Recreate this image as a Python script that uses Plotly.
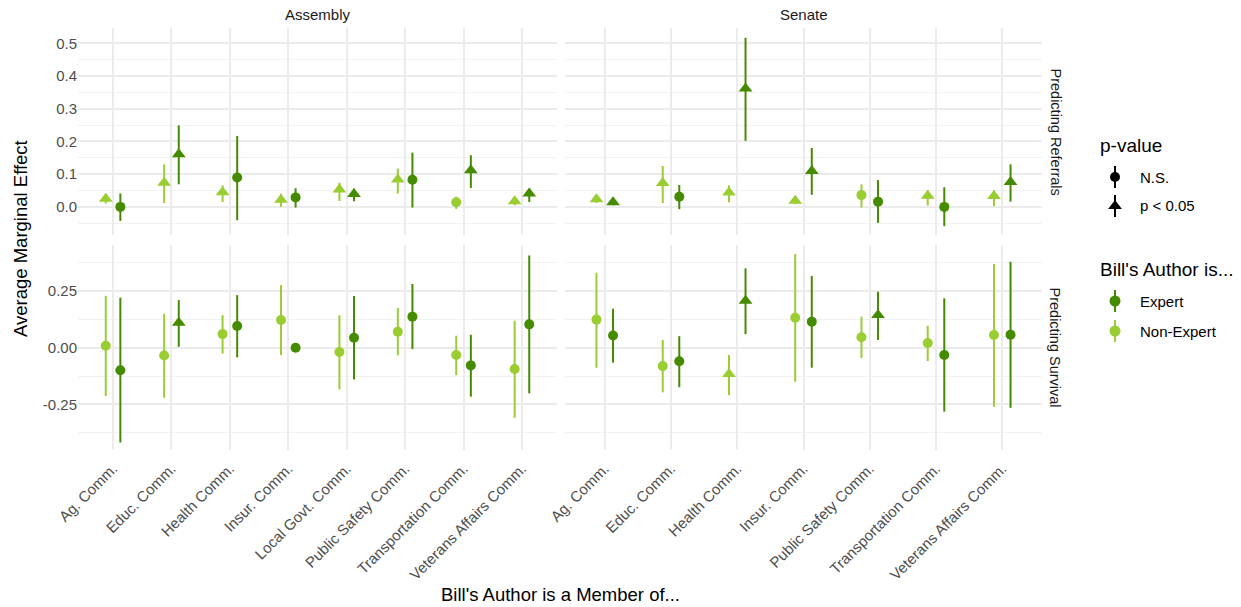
import plotly.graph_objects as go

# ---------------- data ----------------
assembly_comms = ["Ag. Comm.", "Educ. Comm.", "Health Comm.", "Insur. Comm.",
                  "Local Govt. Comm.", "Public Safety Comm.", "Transportation Comm.",
                  "Veterans Affairs Comm."]
senate_comms = ["Ag. Comm.", "Educ. Comm.", "Health Comm.", "Insur. Comm.",
                "Public Safety Comm.", "Transportation Comm.", "Veterans Affairs Comm."]

# Predicting Referrals - Assembly
ref_asm_exp_est = [0.000, 0.161, 0.090, 0.029, 0.039, 0.083, 0.112, 0.041]
ref_asm_exp_lo = [-0.043, 0.069, -0.041, -0.002, 0.017, -0.002, 0.058, 0.015]
ref_asm_exp_hi = [0.041, 0.249, 0.217, 0.057, 0.056, 0.166, 0.158, 0.056]
ref_asm_exp_sig = [False, True, False, False, True, False, True, True]
ref_asm_non_est = [0.025, 0.074, 0.045, 0.022, 0.053, 0.084, 0.014, 0.017]
ref_asm_non_lo = [0.010, 0.012, 0.015, 0.000, 0.018, 0.041, -0.006, 0.005]
ref_asm_non_hi = [0.038, 0.130, 0.066, 0.040, 0.074, 0.117, 0.031, 0.030]
ref_asm_non_sig = [True, True, True, True, True, True, False, True]

# Predicting Referrals - Senate
ref_sen_exp_est = [0.014, 0.031, 0.362, 0.110, 0.016, 0.000, 0.076]
ref_sen_exp_lo = [0.005, -0.007, 0.202, 0.037, -0.049, -0.059, 0.016]
ref_sen_exp_hi = [0.023, 0.067, 0.517, 0.180, 0.082, 0.060, 0.130]
ref_sen_exp_sig = [True, False, True, True, False, False, True]
ref_sen_non_est = [0.023, 0.073, 0.044, 0.019, 0.036, 0.034, 0.033]
ref_sen_non_lo = [0.012, 0.012, 0.014, 0.008, -0.002, 0.004, 0.002]
ref_sen_non_hi = [0.034, 0.125, 0.066, 0.030, 0.069, 0.051, 0.051]
ref_sen_non_sig = [True, True, True, True, False, True, True]

# Predicting Survival - Assembly
sur_asm_exp_est = [-0.099, 0.110, 0.096, 0.000, 0.044, 0.137, -0.078, 0.103]
sur_asm_exp_lo = [-0.418, 0.004, -0.043, -0.004, -0.140, -0.006, -0.216, -0.201]
sur_asm_exp_hi = [0.221, 0.210, 0.232, 0.004, 0.228, 0.281, 0.057, 0.407]
sur_asm_exp_sig = [False, True, False, False, False, False, False, False]
sur_asm_non_est = [0.009, -0.034, 0.060, 0.122, -0.019, 0.071, -0.032, -0.094]
sur_asm_non_lo = [-0.213, -0.221, -0.026, -0.032, -0.184, -0.034, -0.121, -0.309]
sur_asm_non_hi = [0.229, 0.150, 0.144, 0.276, 0.143, 0.175, 0.053, 0.119]
sur_asm_non_sig = [False, False, False, False, False, False, False, False]

# Predicting Survival - Senate
sur_sen_exp_est = [0.054, -0.060, 0.207, 0.115, 0.144, -0.032, 0.057]
sur_sen_exp_lo = [-0.066, -0.174, 0.060, -0.088, 0.034, -0.282, -0.265]
sur_sen_exp_hi = [0.172, 0.051, 0.350, 0.316, 0.247, 0.218, 0.379]
sur_sen_exp_sig = [False, False, True, False, True, False, False]
sur_sen_non_est = [0.124, -0.081, -0.116, 0.132, 0.046, 0.021, 0.056]
sur_sen_non_lo = [-0.088, -0.197, -0.209, -0.150, -0.046, -0.059, -0.260]
sur_sen_non_hi = [0.331, 0.034, -0.032, 0.413, 0.137, 0.097, 0.369]
sur_sen_non_sig = [False, False, True, False, False, False, False]

ref_ticks = [0.0, 0.1, 0.2, 0.3, 0.4, 0.5]
ref_ticktext = ["0.0", "0.1", "0.2", "0.3", "0.4", "0.5"]
sur_ticks = [-0.25, 0.0, 0.25]
sur_ticktext = ["-0.25", "0.00", "0.25"]

# ---------------- style ----------------
W, H = 1241, 607
FONT = "Liberation Sans, Arial, sans-serif"
EXPERT = "#458B00"
NONEXP = "#9ACD32"
GRID = "#ebebeb"
MINOR = "#f2f2f2"
TICKC = "#4d4d4d"
DODGE = 0.125
TICK_SIZE = 15

def px_x(p):
    return p / W

def px_y(p):
    return 1 - p / H

x_left = [px_x(78), px_x(557)]
x_right = [px_x(565), px_x(1042)]
y_top = [px_y(235), px_y(28)]
y_bot = [px_y(450), px_y(245)]

fig = go.Figure()

panels = [
    ("x", "y", assembly_comms,
     (ref_asm_exp_est, ref_asm_exp_lo, ref_asm_exp_hi, ref_asm_exp_sig),
     (ref_asm_non_est, ref_asm_non_lo, ref_asm_non_hi, ref_asm_non_sig)),
    ("x2", "y2", senate_comms,
     (ref_sen_exp_est, ref_sen_exp_lo, ref_sen_exp_hi, ref_sen_exp_sig),
     (ref_sen_non_est, ref_sen_non_lo, ref_sen_non_hi, ref_sen_non_sig)),
    ("x3", "y3", assembly_comms,
     (sur_asm_exp_est, sur_asm_exp_lo, sur_asm_exp_hi, sur_asm_exp_sig),
     (sur_asm_non_est, sur_asm_non_lo, sur_asm_non_hi, sur_asm_non_sig)),
    ("x4", "y4", senate_comms,
     (sur_sen_exp_est, sur_sen_exp_lo, sur_sen_exp_hi, sur_sen_exp_sig),
     (sur_sen_non_est, sur_sen_non_lo, sur_sen_non_hi, sur_sen_non_sig)),
]

for xa, ya, cats, exp, non in panels:
    fig.add_shape(type="line", xref=f"{xa} domain", yref=ya, x0=0, x1=1, y0=0, y1=0,
                  line=dict(color="#bdbdbd", width=1.5, dash="dash"), layer="below")
    for (est, lo, hi, sig), color, off in ((non, NONEXP, -DODGE), (exp, EXPERT, DODGE)):
        xs = [i + 1 + off for i in range(len(cats))]
        fig.add_trace(go.Scatter(
            x=xs, y=est, xaxis=xa, yaxis=ya, mode="markers",
            marker=dict(color=color, opacity=1,
                        symbol=["triangle-up" if s else "circle" for s in sig],
                        size=[12 if s else 10 for s in sig],
                        line=dict(width=0)),
            error_y=dict(type="data", symmetric=False,
                         array=[h - e for h, e in zip(hi, est)],
                         arrayminus=[e - l for e, l in zip(est, lo)],
                         color=color, thickness=2, width=0),
            showlegend=False, hoverinfo="skip"))

def xaxis_cfg(domain, anchor, cats, show_labels):
    return dict(domain=domain, anchor=anchor, range=[0.4, len(cats) + 0.6],
                tickmode="array", tickvals=list(range(1, len(cats) + 1)),
                ticktext=cats, showticklabels=show_labels, tickangle=-45,
                tickfont=dict(family=FONT, size=TICK_SIZE, color=TICKC),
                ticklabelstandoff=6,
                showgrid=True, gridcolor=GRID, gridwidth=1.6, zeroline=False,
                showline=False, ticks="", automargin=False)

def yaxis_cfg(domain, anchor, rng, tv, tt, minor_vals, show_labels):
    return dict(domain=domain, anchor=anchor, range=rng, tickmode="array",
                tickvals=tv, ticktext=tt, showticklabels=show_labels,
                tickfont=dict(family=FONT, size=TICK_SIZE, color=TICKC),
                showgrid=True, gridcolor=GRID, gridwidth=1.6, zeroline=False,
                minor=dict(tickmode="array", tickvals=minor_vals, showgrid=True,
                           gridcolor=MINOR, gridwidth=1, ticks=""),
                showline=False, ticks="", automargin=False)

ref_range = [-0.086, 0.547]
sur_range = [-0.451, 0.453]
ref_minor = [-0.05, 0.05, 0.15, 0.25, 0.35, 0.45]
sur_minor = [-0.375, -0.125, 0.125, 0.375]

# legend key area (pixel space)
LX0, LX1, LY0, LY1 = 1090, 1135, 150, 350

fig.update_layout(
    xaxis=xaxis_cfg(x_left, "y", assembly_comms, False),
    xaxis2=xaxis_cfg(x_right, "y2", senate_comms, False),
    xaxis3=xaxis_cfg(x_left, "y3", assembly_comms, True),
    xaxis4=xaxis_cfg(x_right, "y4", senate_comms, True),
    yaxis=yaxis_cfg(y_top, "x", ref_range, ref_ticks, ref_ticktext, ref_minor, True),
    yaxis2=yaxis_cfg(y_top, "x2", ref_range, ref_ticks, ref_ticktext, ref_minor, False),
    yaxis3=yaxis_cfg(y_bot, "x3", sur_range, sur_ticks, sur_ticktext, sur_minor, True),
    yaxis4=yaxis_cfg(y_bot, "x4", sur_range, sur_ticks, sur_ticktext, sur_minor, False),
    xaxis5=dict(domain=[px_x(LX0), px_x(LX1)], anchor="y5", range=[LX0, LX1],
                visible=False, fixedrange=True),
    yaxis5=dict(domain=[px_y(LY1), px_y(LY0)], anchor="x5", range=[LY1, LY0],
                visible=False, fixedrange=True),
)

# ---------------- annotations ----------------
ann = []
def text(x, y, s, size=13, color="#1a1a1a", angle=0, xanchor="center", yanchor="middle"):
    ann.append(dict(x=px_x(x), y=px_y(y), xref="paper", yref="paper", text=s,
                    showarrow=False, textangle=angle, xanchor=xanchor, yanchor=yanchor,
                    font=dict(family=FONT, size=size, color=color)))

text((78 + 557) / 2, 14, "Assembly", size=15)
text((565 + 1042) / 2, 14, "Senate", size=15)
text(1055, (28 + 235) / 2, "Predicting Referrals", size=14.5, angle=90)
text(1055, (245 + 450) / 2, "Predicting Survival", size=14.5, angle=90)
text(21, (28 + 450) / 2, "Average Marginal Effect", size=18.5, color="#000000", angle=-90)
text((78 + 1042) / 2, 594, "Bill's Author is a Member of...", size=18.5, color="#000000")

text(1098, 145, "p-value", size=19, color="#000000", xanchor="left")
text(1138, 177, "N.S.", size=15, color="#000000", xanchor="left")
text(1138, 206, "p < 0.05", size=15, color="#000000", xanchor="left")
text(1098, 269, "Bill's Author is...", size=19, color="#000000", xanchor="left")
text(1138, 301, "Expert", size=15, color="#000000", xanchor="left")
text(1138, 331, "Non-Expert", size=15, color="#000000", xanchor="left")
fig.update_layout(annotations=ann)

legend_keys = [
    (177, "#000000", "circle", 10),
    (206, "#000000", "triangle-up", 12),
    (301, EXPERT, "circle", 11),
    (331, NONEXP, "circle", 11),
]
for yk, col, sym, sz in legend_keys:
    fig.add_trace(go.Scatter(x=[1115, 1115], y=[yk - 11, yk + 11], xaxis="x5", yaxis="y5",
                             mode="lines", line=dict(color=col, width=2),
                             showlegend=False, hoverinfo="skip", cliponaxis=False))
    fig.add_trace(go.Scatter(x=[1115], y=[yk], xaxis="x5", yaxis="y5", mode="markers",
                             marker=dict(color=col, symbol=sym, size=sz, opacity=1),
                             showlegend=False, hoverinfo="skip", cliponaxis=False))

fig.update_layout(width=W, height=H, margin=dict(l=0, r=0, t=0, b=0),
                  paper_bgcolor="white", plot_bgcolor="rgba(0,0,0,0)", showlegend=False,
                  font=dict(family=FONT))

fig.write_html("out.html")
